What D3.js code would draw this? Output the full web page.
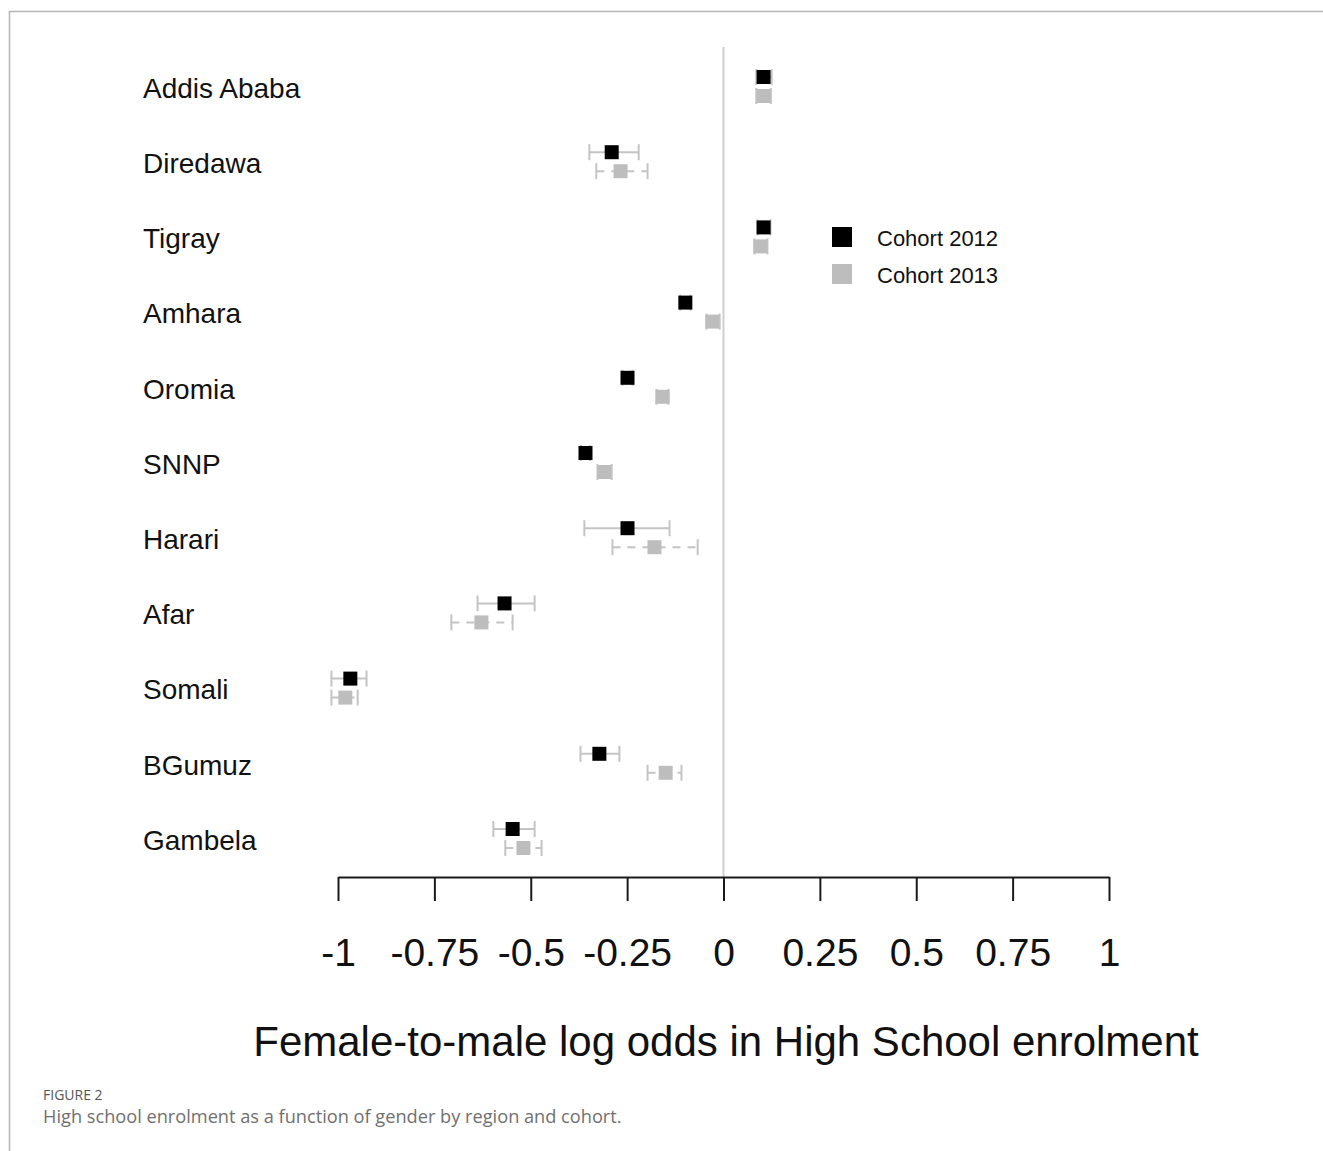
<!DOCTYPE html>
<html>
<head>
<meta charset="utf-8">
<script src="https://cdn.jsdelivr.net/npm/d3@7"></script>
<style>
  body { margin: 0; background: #fff; }
  svg { display: block; }
</style>
</head>
<body>
<svg id="chart" width="1323" height="1151"></svg>
<script>
// regions, top to bottom
let regions = ['Addis Ababa', 'Diredawa', 'Tigray', 'Amhara', 'Oromia', 'SNNP', 'Harari', 'Afar', 'Somali', 'BGumuz', 'Gambela']

// cohort 2012: estimate and interval
let est2012 = [0.104, -0.290, 0.104, -0.099, -0.249, -0.358, -0.249, -0.568, -0.968, -0.322, -0.547]
let lo2012  = [0.085, -0.348, 0.088, -0.112, -0.262, -0.370, -0.361, -0.638, -1.017, -0.371, -0.597]
let hi2012  = [0.125, -0.220, 0.122, -0.086, -0.236, -0.346, -0.140, -0.490, -0.926, -0.270, -0.490]

// cohort 2013
let est2013 = [0.104, -0.267, 0.096, -0.029, -0.158, -0.309, -0.179, -0.628, -0.981, -0.150, -0.519]
let lo2013  = [0.085, -0.330, 0.080, -0.044, -0.174, -0.327, -0.288, -0.706, -1.017, -0.197, -0.566]
let hi2013  = [0.123, -0.197, 0.114, -0.010, -0.143, -0.290, -0.067, -0.547, -0.949, -0.109, -0.472]

let xTicks = [-1, -0.75, -0.5, -0.25, 0, 0.25, 0.5, 0.75, 1]
let tickLabels = ['-1', '-0.75', '-0.5', '-0.25', '0', '0.25', '0.5', '0.75', '1']

let cohorts = [
    {name: 'Cohort 2012', est: est2012, lo: lo2012, hi: hi2012, fill: '#000000', dash: null, dy: -11},
    {name: 'Cohort 2013', est: est2013, lo: lo2013, hi: hi2013, fill: '#bdbdbd', dash: '8,7', dy: 8}
]

let svg = d3.select('#chart')
let font = '"Liberation Sans", Arial, sans-serif'

// frame lines of the figure box
svg.append('line').attr('x1', 9).attr('x2', 1323).attr('y1', 11.5).attr('y2', 11.5)
    .attr('stroke', '#b5b5b5').attr('stroke-width', 1.5)
svg.append('line').attr('x1', 9.5).attr('x2', 9.5).attr('y1', 11).attr('y2', 1151)
    .attr('stroke', '#b5b5b5').attr('stroke-width', 1.5)

let x = d3.scaleLinear().domain([-1, 1]).range([338, 1109])
let y = d3.scalePoint().domain(regions).range([88, 840])

// zero reference line
svg.append('line')
    .attr('x1', x(0)).attr('x2', x(0))
    .attr('y1', 47).attr('y2', 877)
    .attr('stroke', '#cfcfcf').attr('stroke-width', 2)

// region labels
svg.selectAll('text.region')
    .data(regions)
    .enter()
    .append('text')
    .attr('class', 'region')
    .attr('x', 143)
    .attr('y', (d) => y(d))
    .attr('dy', '0.35em')
    .attr('font-family', font)
    .attr('font-size', 28)
    .attr('fill', '#111')
    .text((d) => d)

// error bars and markers
cohorts.forEach((c) => {
    let g = svg.append('g')
    let rows = regions.map((r, i) => ({region: r, est: c.est[i], lo: c.lo[i], hi: c.hi[i]}))

    g.selectAll('line.ci')
        .data(rows)
        .enter()
        .append('line')
        .attr('x1', (d) => x(d.lo))
        .attr('x2', (d) => x(d.hi))
        .attr('y1', (d) => y(d.region) + c.dy)
        .attr('y2', (d) => y(d.region) + c.dy)
        .attr('stroke', '#c4c4c4')
        .attr('stroke-width', 2)
        .attr('stroke-dasharray', c.dash)

    ;['lo', 'hi'].forEach((k) => {
        g.selectAll('line.cap-' + k)
            .data(rows)
            .enter()
            .append('line')
            .attr('x1', (d) => x(d[k]))
            .attr('x2', (d) => x(d[k]))
            .attr('y1', (d) => y(d.region) + c.dy - 8)
            .attr('y2', (d) => y(d.region) + c.dy + 8)
            .attr('stroke', '#c4c4c4')
            .attr('stroke-width', 2)
    })

    g.selectAll('rect')
        .data(rows)
        .enter()
        .append('rect')
        .attr('x', (d) => x(d.est) - 7)
        .attr('y', (d) => y(d.region) + c.dy - 7)
        .attr('width', 14)
        .attr('height', 14)
        .attr('fill', c.fill)
})

// legend
let legend = svg.append('g')
cohorts.forEach((c, i) => {
    legend.append('rect')
        .attr('x', 832).attr('y', 227 + i * 37)
        .attr('width', 20).attr('height', 20)
        .attr('fill', c.fill)
    legend.append('text')
        .attr('x', 877).attr('y', 238 + i * 37)
        .attr('dy', '0.35em')
        .attr('font-family', font)
        .attr('font-size', 22)
        .attr('fill', '#111')
        .text(c.name)
})

// x axis
let axis = d3.axisBottom(x)
    .tickValues(xTicks)
    .tickFormat((d, i) => tickLabels[i])
    .tickSize(24)
    .tickSizeOuter(0)
    .tickPadding(37)

let ax = svg.append('g')
    .attr('transform', 'translate(0,877)')
    .call(axis)
ax.select('.domain').attr('stroke', '#1a1a1a').attr('stroke-width', 2)
ax.selectAll('.tick line').attr('stroke', '#1a1a1a').attr('stroke-width', 2)
ax.selectAll('.tick text')
    .attr('font-family', font)
    .attr('font-size', 39)
    .attr('fill', '#111')

// axis title
svg.append('text')
    .attr('x', 726)
    .attr('y', 1056)
    .attr('text-anchor', 'middle')
    .attr('font-family', font)
    .attr('font-size', 42)
    .attr('fill', '#111')
    .text('Female-to-male log odds in High School enrolment')

// caption
svg.append('text')
    .attr('x', 43).attr('y', 1100)
    .attr('font-family', '"Open Sans", sans-serif')
    .attr('font-size', 14)
    .attr('fill', '#555')
    .text('FIGURE 2')
svg.append('text')
    .attr('x', 43).attr('y', 1123)
    .attr('font-family', '"Open Sans", sans-serif')
    .attr('font-size', 18.2)
    .attr('fill', '#707070')
    .text('High school enrolment as a function of gender by region and cohort.')
</script>
</body>
</html>
